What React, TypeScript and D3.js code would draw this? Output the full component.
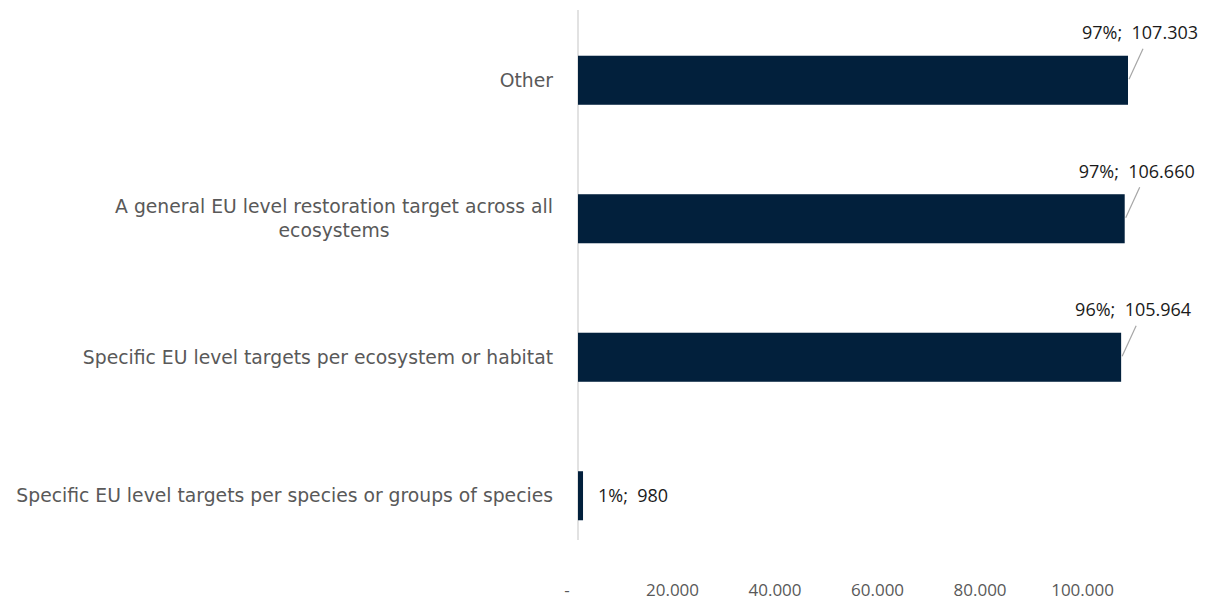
import React, { useEffect, useRef } from "react";
import * as d3 from "d3";

const categories: string[][] = [
  ["Other"],
  ["A general EU level restoration target across all", "ecosystems"],
  ["Specific EU level targets per ecosystem or habitat"],
  ["Specific EU level targets per species or groups of species"],
];
const values: number[] = [107303, 106660, 105964, 980];
const shares: string[] = ["97%", "97%", "96%", "1%"];
const valueLabels: string[] = ["107.303", "106.660", "105.964", "980"];
const tickValues: number[] = [0, 20000, 40000, 60000, 80000, 100000];
const tickLabels: string[] = ["-", "20.000", "40.000", "60.000", "80.000", "100.000"];

const W = 1212;
const H = 601;

export default function App() {
  const ref = useRef<SVGSVGElement>(null);

  useEffect(() => {
    const svg = d3.select(ref.current);
    svg.selectAll("*").remove();

    const x0 = 578;
    const slope = (1128 - x0) / 107303;
    const x = d3.scaleLinear().domain([0, 120000]).range([x0, x0 + 120000 * slope]);
    const keys = categories.map((c) => c.join(" "));
    const y = d3
      .scaleBand<string>()
      .domain(keys)
      .range([11, 565])
      .paddingInner(0.646)
      .paddingOuter(0.323);

    const labelFont = "'Open Sans', sans-serif";
    const catFont = "'DejaVu Sans', sans-serif";

    // axis line
    svg
      .append("line")
      .attr("x1", x(0))
      .attr("x2", x(0))
      .attr("y1", 10)
      .attr("y2", 540)
      .attr("stroke", "#d9d9d9")
      .attr("stroke-width", 1.5);

    // bars
    svg
      .selectAll("rect.bar")
      .data(values)
      .join("rect")
      .attr("class", "bar")
      .attr("x", x(0))
      .attr("y", (_, i) => y(keys[i])!)
      .attr("width", (d) => x(d) - x(0))
      .attr("height", y.bandwidth())
      .attr("fill", "#02203C");

    // fit category font so the longest label spans the reference width
    const right = 553;
    const probe = svg
      .append("text")
      .attr("font-family", catFont)
      .attr("font-size", 18)
      .text(categories[3][0]);
    const pw = (probe.node() as SVGTextElement).getComputedTextLength();
    probe.remove();
    const catSize = pw > 0 ? (18 * (right - 16)) / pw : 18;

    const catG = svg.append("g");
    categories.forEach((lines, i) => {
      const cy = y(keys[i])! + y.bandwidth() / 2;
      const lh = 24;
      const startY = cy - ((lines.length - 1) * lh) / 2;
      const tmp = catG
        .append("text")
        .attr("font-family", catFont)
        .attr("font-size", catSize)
        .text(lines[0]);
      const w0 = (tmp.node() as SVGTextElement).getComputedTextLength();
      tmp.remove();
      lines.forEach((ln, j) => {
        catG
          .append("text")
          .attr("x", lines.length > 1 ? right - w0 / 2 : right)
          .attr("y", startY + j * lh)
          .attr("dy", "0.35em")
          .attr("text-anchor", lines.length > 1 ? "middle" : "end")
          .attr("font-family", catFont)
          .attr("font-size", catSize)
          .attr("fill", "#595959")
          .text(ln);
      });
    });

    // tick labels
    svg
      .selectAll("text.tick")
      .data(tickValues)
      .join("text")
      .attr("class", "tick")
      .attr("x", (d) => x(d) - (d === 0 ? 11 : 8))
      .attr("y", 590)
      .attr("dy", "0.35em")
      .attr("text-anchor", "middle")
      .attr("font-family", labelFont)
      .attr("font-size", 17)
      .attr("fill", "#595959")
      .text((_, i) => tickLabels[i]);

    // data labels
    values.forEach((v, i) => {
      const top = y(keys[i])!;
      const cy = top + y.bandwidth() / 2;
      const end = x(v);
      const txt = `${shares[i]};\u00a0 ${valueLabels[i]}`;
      if (v > 50000) {
        svg
          .append("line")
          .attr("x1", end + 1)
          .attr("y1", cy - 1)
          .attr("x2", end + 15)
          .attr("y2", top - 7)
          .attr("stroke", "#a6a6a6")
          .attr("stroke-width", 1.2);
        svg
          .append("text")
          .attr("x", end + 12)
          .attr("y", top - 23)
          .attr("dy", "0.35em")
          .attr("text-anchor", "middle")
          .attr("font-family", labelFont)
          .attr("font-size", 18)
          .attr("fill", "#1a1a1a")
          .text(txt);
      } else {
        svg
          .append("text")
          .attr("x", end + 15)
          .attr("y", cy)
          .attr("dy", "0.35em")
          .attr("text-anchor", "start")
          .attr("font-family", labelFont)
          .attr("font-size", 18)
          .attr("fill", "#1a1a1a")
          .text(txt);
      }
    });
  }, []);

  return (
    <svg
      ref={ref}
      width={W}
      height={H}
      style={{ position: "absolute", left: 0, top: 0, background: "#fff" }}
    />
  );
}
